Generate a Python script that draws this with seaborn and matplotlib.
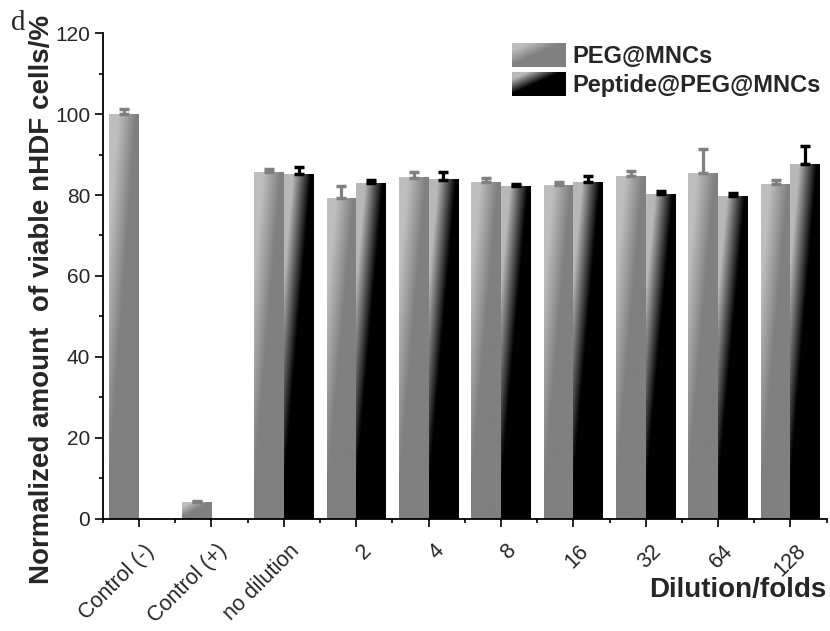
import numpy as np
import pandas as pd
import matplotlib
matplotlib.use('Agg')
import matplotlib.pyplot as plt
import seaborn as sns
from matplotlib.image import BboxImage
from matplotlib.patches import Patch
from matplotlib.ticker import MultipleLocator, FixedLocator
from matplotlib.transforms import ScaledTranslation

# values
categories = ['Control (-)', 'Control (+)', 'no dilution', '2', '4', '8', '16', '32', '64', '128']
groups = ['PEG@MNCs', 'Peptide@PEG@MNCs']
peg = [100.0, 4.1, 85.6, 79.2, 84.3, 83.1, 82.4, 84.6, 85.4, 82.6]
peg_err = [1.2, 0.4, 0.8, 2.9, 1.5, 1.0, 0.9, 1.4, 5.9, 1.0]
peptide = [np.nan, np.nan, 85.1, 82.9, 83.8, 82.1, 83.1, 80.2, 79.7, 87.6]
peptide_err = [np.nan, np.nan, 1.8, 0.9, 2.0, 0.5, 1.7, 0.9, 0.7, 4.4]

light_cols = {'PEG@MNCs': '#bebebe', 'Peptide@PEG@MNCs': '#b8b8b8'}
dark_cols = {'PEG@MNCs': '#808080', 'Peptide@PEG@MNCs': '#000000'}

df = pd.DataFrame({
    'cat': categories * 2,
    'group': [groups[0]] * len(categories) + [groups[1]] * len(categories),
    'value': peg + peptide,
    'err': peg_err + peptide_err,
})

sns.set_style('ticks')
plt.rcParams['font.family'] = ['Liberation Sans', 'DejaVu Sans']


def gradient(light, dark, n=100):
    # diagonal ramp in the bar's own unit square, light top-left -> dark bottom-right
    l = np.array(matplotlib.colors.to_rgb(light))
    d = np.array(matplotlib.colors.to_rgb(dark))
    u = np.linspace(0, 1, n)
    uu, vv = np.meshgrid(u, u)
    s = np.clip((uu + vv - 0.3) / 0.6, 0, 1)[..., None]
    return l * (1 - s) + d * s


fig, ax = plt.subplots(figsize=(8.3, 6.31), dpi=100)
fig.subplots_adjust(left=0.124, right=0.996, bottom=0.1775, top=0.9477)

sns.barplot(data=df, x='cat', y='value', hue='group', order=categories,
            hue_order=groups, palette=dark_cols, width=0.82, errorbar=None,
            saturation=1, legend=False, ax=ax)

# gradient fill + upper error bars
for cont, g in zip(ax.containers, groups):
    sub = df[(df.group == g)].dropna(subset=['value'])
    for patch, err in zip(cont.patches, sub['err']):
        x0, y0 = patch.get_x(), patch.get_y()
        w, h = patch.get_width(), patch.get_height()
        ax.imshow(gradient(light_cols[g], dark_cols[g]), extent=(x0, x0 + w, y0, y0 + h),
                  origin='upper', aspect='auto', interpolation='bilinear', zorder=2)
        patch.set_edgecolor('none')
        ax.errorbar(x0 + w / 2, y0 + h, yerr=[[0], [err]], fmt='none',
                    ecolor=dark_cols[g], elinewidth=2.3, capsize=3.8, capthick=2.5, zorder=3)

ax.set_xlim(-0.5, len(categories) - 0.5)
ax.set_ylim(0, 120)
ax.yaxis.set_major_locator(MultipleLocator(20))
ax.yaxis.set_minor_locator(MultipleLocator(10))
ax.xaxis.set_minor_locator(FixedLocator(np.arange(-0.5, len(categories), 1)))
sns.despine(ax=ax)
for sp in ['left', 'bottom']:
    ax.spines[sp].set_linewidth(1.3)
    ax.spines[sp].set_color('black')

ax.tick_params(which='major', length=5.8, width=1.2, color='black', direction='out')
ax.tick_params(which='minor', length=2.9, width=1.2, color='black', direction='out')
ax.tick_params(axis='y', labelsize=15, pad=3.5)
ax.tick_params(axis='x', labelsize=15.5, pad=15)
ax.set_xticks(range(len(categories)))
ax.set_xticklabels(categories, rotation=45, ha='right', va='center', rotation_mode='anchor')
off = ScaledTranslation(0.12, 0, fig.dpi_scale_trans)
for lab in ax.get_xticklabels():
    lab.set_transform(lab.get_transform() + off)

ax.set_xlabel('Dilution/folds', fontsize=20, fontweight='bold')
ax.xaxis.set_label_coords(1.0, -0.12)
ax.xaxis.label.set_ha('right')
ax.set_ylabel('Normalized amount  of viable nHDF cells/%', fontsize=20, fontweight='bold')
ax.yaxis.set_label_coords(-0.066, 0.452)

fig.text(11 / 830, 1 - 30 / 631, 'd', family='Liberation Serif', fontsize=21, va='baseline')

handles = [Patch(facecolor=dark_cols[g], edgecolor='none', label=g) for g in groups]
leg = ax.legend(handles=handles, loc='upper left', bbox_to_anchor=(0.565, 0.979),
                frameon=False, borderpad=0, borderaxespad=0, handlelength=2.25,
                handleheight=1.15, labelspacing=0.2, handletextpad=0.3,
                prop={'size': 17, 'weight': 'bold'})
for hp, g in zip(leg.legend_handles, groups):
    bi = BboxImage(lambda r, p=hp: p.get_window_extent(r), interpolation='bilinear', zorder=6)
    bi.set_data(gradient(light_cols[g], dark_cols[g]))
    fig.add_artist(bi)

fig.savefig('out.png', dpi=100)
